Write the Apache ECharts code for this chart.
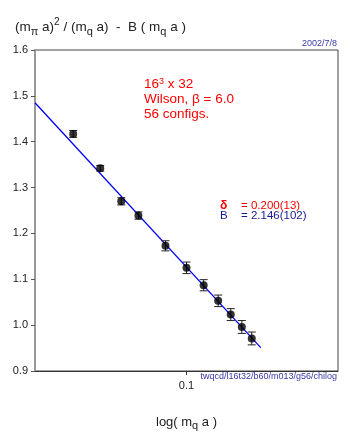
<!DOCTYPE html>
<html>
<head>
<meta charset="utf-8">
<script src="https://cdn.jsdelivr.net/npm/echarts@6/dist/echarts.min.js"></script>
<style>
html,body{margin:0;padding:0;background:#fff;}
#chart{width:360px;height:436px;}
</style>
</head>
<body>
<div id="chart"></div>
<script>
// Data
var mqa = [0.03, 0.04, 0.05, 0.06, 0.08, 0.10, 0.12, 0.14, 0.16, 0.18, 0.20];
var yVals = [1.417, 1.342, 1.270, 1.239, 1.173, 1.125, 1.087, 1.053, 1.023, 0.996, 0.971];
var yErr = [0.0074, 0.006, 0.0078, 0.008, 0.011, 0.0126, 0.0122, 0.0126, 0.013, 0.014, 0.014];
var fitX = [0.02, 0.22];
var fitY = [1.485, 0.951];
var yTicks = [0.9, 1.0, 1.1, 1.2, 1.3, 1.4, 1.5, 1.6];
var xTickLabels = [0.1];

var FONT = '"Liberation Sans", Arial, sans-serif';
var chart = echarts.init(document.getElementById('chart'), null, {renderer: 'canvas'});

var points = mqa.map(function (m, i) { return [m, yVals[i]]; });
var errData = mqa.map(function (m, i) { return [m, yVals[i] - yErr[i], yVals[i] + yErr[i]]; });
var fitData = fitX.map(function (x, i) { return [x, fitY[i]]; });

var option = {
  animation: false,
  backgroundColor: '#fff',
  grid: {left: 35, top: 50, right: 22, bottom: 53, show: true, borderColor: '#444', borderWidth: 1},
  xAxis: {
    type: 'log', logBase: 10, min: 0.02, max: 0.5,
    axisLine: {onZero: false, lineStyle: {color: '#333', width: 1}},
    axisTick: {show: true, length: 4, inside: false, lineStyle: {color: '#333'},
      interval: function (idx, val) { return xTickLabels.indexOf(Math.round(val * 1000) / 1000) >= 0; }},
    axisLabel: {
      fontFamily: FONT, fontSize: 11, color: '#222', margin: 9,
      showMinLabel: false, showMaxLabel: false,
      formatter: function (v) {
        var r = Math.round(v * 1000) / 1000;
        return xTickLabels.indexOf(r) >= 0 ? String(r) : '';
      }
    },
    splitLine: {show: false},
    minorTick: {show: false},
    name: 'log( m{sub|q} a )',
    nameLocation: 'middle', nameGap: 42,
    nameTextStyle: {
      fontFamily: FONT, fontSize: 13, color: '#222', lineHeight: 18,
      rich: {sub: {fontFamily: FONT, fontSize: 11, color: '#222', lineHeight: 11, verticalAlign: 'bottom'}}
    }
  },
  yAxis: {
    type: 'value', min: 0.9, max: 1.6, interval: 0.1,
    axisLine: {show: true, lineStyle: {color: '#999', width: 2}},
    axisTick: {show: true, length: 4, lineStyle: {color: '#555'}},
    axisLabel: {fontFamily: FONT, fontSize: 11, color: '#222', margin: 7,
      formatter: function (v) { return v.toFixed(1); }},
    splitLine: {show: false}
  },
  title: {
    text: '(m{sub|π} a){sup|2} / (m{sub|q} a)  -  B ( m{sub|q} a )',
    left: 10, top: 12,
    textStyle: {
      fontFamily: FONT, fontSize: 13.5, color: '#222', fontWeight: 'normal', lineHeight: 20,
      rich: {
        sub: {fontFamily: FONT, fontSize: 11, color: '#222', lineHeight: 11, verticalAlign: 'bottom'},
        sup: {fontFamily: FONT, fontSize: 10, color: '#222', lineHeight: 10, verticalAlign: 'top'}
      }
    }
  },
  graphic: [
    {type: 'text', right: 23, top: 39, style: {text: '2002/7/8', font: '9px ' + FONT, fill: '#3a3aa8'}},
    {type: 'text', right: 23, top: 372, style: {text: 'twqcd/l16t32/b60/m013/g56/chilog', font: '9px ' + FONT, fill: '#3a3aa8'}},
    {type: 'text', left: 144, top: 77, style: {
      text: '16{sup|3} x 32\nWilson, β = 6.0\n56 configs.',
      font: '13.5px ' + FONT, fill: '#ff0000', lineHeight: 15,
      rich: {sup: {fontSize: 9, fill: '#ff0000', lineHeight: 9, verticalAlign: 'top', fontFamily: FONT}}
    }},
    {type: 'text', left: 220, top: 200, style: {text: 'δ', font: 'bold 12px ' + FONT, fill: '#ff0000'}},
    {type: 'text', left: 241, top: 200, style: {text: '= 0.200(13)', font: '11.5px ' + FONT, fill: '#ff0000'}},
    {type: 'text', left: 220, top: 210, style: {text: 'B', font: '11.5px ' + FONT, fill: '#1a1a90'}},
    {type: 'text', left: 241, top: 210, style: {text: '= 2.146(102)', font: '11.5px ' + FONT, fill: '#1a1a90'}}
  ],
  series: [
    {
      type: 'line', data: fitData, symbol: 'none', z: 2,
      lineStyle: {color: '#0000ff', width: 1.3}
    },
    {
      type: 'custom', z: 3,
      data: errData,
      renderItem: function (params, api) {
        var x = api.value(0);
        var lo = api.coord([x, api.value(1)]);
        var hi = api.coord([x, api.value(2)]);
        var cw = 4;
        var st = {stroke: '#222', lineWidth: 1};
        return {type: 'group', children: [
          {type: 'line', shape: {x1: lo[0], y1: lo[1], x2: hi[0], y2: hi[1]}, style: st},
          {type: 'line', shape: {x1: lo[0] - cw, y1: lo[1], x2: lo[0] + cw, y2: lo[1]}, style: st},
          {type: 'line', shape: {x1: hi[0] - cw, y1: hi[1], x2: hi[0] + cw, y2: hi[1]}, style: st}
        ]};
      }
    },
    {
      type: 'scatter', data: points, symbol: 'circle', symbolSize: 8, z: 4,
      itemStyle: {color: '#000'}
    }
  ]
};
chart.setOption(option);
</script>
</body>
</html>
